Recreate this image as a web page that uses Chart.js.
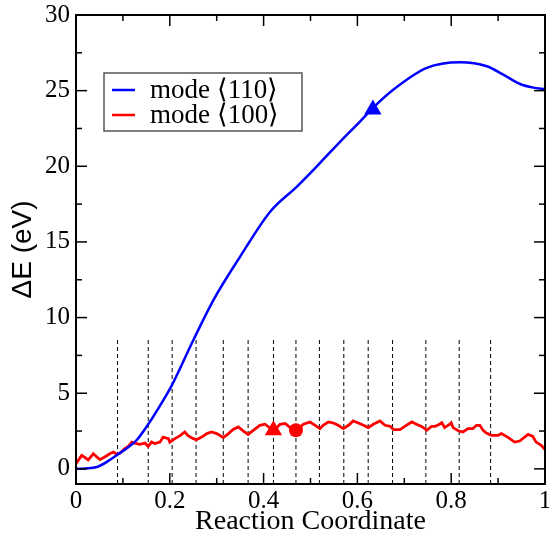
<!DOCTYPE html>
<html><head><meta charset="utf-8">
<script src="https://cdn.jsdelivr.net/npm/chart.js@4"></script>
<style>html,body{margin:0;padding:0;background:#fff;}#wrap{width:549px;height:539px;}</style>
</head><body><div id="wrap"><canvas id="c" width="549" height="539"></canvas></div>
<script>
// ---- data ----
const seriesNames = ['mode \u27E8110\u27E9', 'mode \u27E8100\u27E9'];
const blueX = [0, 0.02, 0.044, 0.065, 0.089, 0.11, 0.129, 0.154, 0.173, 0.204, 0.25, 0.293, 0.35, 0.414, 0.471, 0.52, 0.567, 0.606, 0.633, 0.677, 0.748, 0.819, 0.876, 0.911, 0.947, 0.975, 1.0];
const blueY = [0, 0.03, 0.12, 0.45, 0.95, 1.4, 1.89, 2.95, 3.87, 5.5, 8.5, 11.16, 14.03, 17.0, 18.66, 20.21, 21.75, 22.97, 23.85, 25.07, 26.5, 26.87, 26.61, 26.06, 25.44, 25.2, 25.1];
const redX = [0, 0.012, 0.019, 0.026, 0.037, 0.044, 0.051, 0.062, 0.072, 0.080, 0.087, 0.094, 0.104, 0.112, 0.119, 0.129, 0.136, 0.147, 0.154, 0.161, 0.168, 0.179, 0.186, 0.197, 0.200, 0.211, 0.222, 0.232, 0.239, 0.250, 0.257, 0.268, 0.279, 0.289, 0.300, 0.314, 0.325, 0.335, 0.346, 0.357, 0.367, 0.378, 0.392, 0.403, 0.414, 0.424, 0.435, 0.446, 0.456, 0.469, 0.485, 0.499, 0.510, 0.520, 0.527, 0.538, 0.549, 0.559, 0.570, 0.581, 0.591, 0.602, 0.613, 0.623, 0.634, 0.648, 0.659, 0.670, 0.677, 0.691, 0.701, 0.716, 0.726, 0.737, 0.748, 0.758, 0.766, 0.775, 0.780, 0.786, 0.797, 0.800, 0.804, 0.816, 0.825, 0.836, 0.846, 0.854, 0.861, 0.868, 0.875, 0.886, 0.900, 0.907, 0.922, 0.935, 0.946, 0.964, 0.974, 0.981, 0.992, 1.0];
const redY = [0.34, 0.89, 0.75, 0.6, 1.0, 0.8, 0.61, 0.8, 1.0, 1.11, 0.95, 1.05, 1.34, 1.5, 1.77, 1.67, 1.62, 1.7, 1.49, 1.77, 1.67, 1.77, 2.1, 2.0, 1.77, 2.0, 2.2, 2.44, 2.2, 2.0, 1.93, 2.1, 2.33, 2.44, 2.33, 2.07, 2.33, 2.6, 2.77, 2.5, 2.28, 2.55, 2.88, 2.95, 2.7, 2.6, 2.95, 3.0, 2.75, 2.55, 2.95, 3.1, 2.88, 2.66, 2.88, 3.1, 3.03, 2.88, 2.66, 2.88, 3.17, 3.03, 2.88, 2.73, 2.95, 3.17, 2.88, 2.81, 2.6, 2.6, 2.81, 3.1, 2.95, 2.81, 2.55, 2.81, 2.81, 2.95, 3.05, 2.73, 2.95, 3.05, 2.73, 2.5, 2.44, 2.66, 2.66, 2.88, 2.88, 2.55, 2.37, 2.22, 2.22, 2.33, 2.07, 1.77, 1.84, 2.28, 2.15, 1.77, 1.55, 1.27];
const dashX = [0.0886, 0.154, 0.205, 0.256, 0.314, 0.367, 0.421, 0.469, 0.519, 0.571, 0.623, 0.675, 0.746, 0.817, 0.884];
const dashYRange = [-1, 8.6];
const blueMarkers = [{x: 0.633, y: 23.75}];
const redTriangles = [{x: 0.421, y: 2.55}];
const redCircles = [{x: 0.469, y: 2.55}];
const xTicks = [0, 0.2, 0.4, 0.6, 0.8, 1];
const yTicks = [0, 5, 10, 15, 20, 25, 30];
const xMinor = [0.1, 0.3, 0.5, 0.7, 0.9];
const yMinor = [2.5, 7.5, 12.5, 17.5, 22.5, 27.5];

const pts = (xs, ys) => xs.map((x, i) => ({x, y: ys[i]}));
const dashData = [];
dashX.forEach(x => { dashData.push({x, y: dashYRange[0]}, {x, y: dashYRange[1]}, {x, y: null}); });

const SERIF = '"Liberation Serif", "Times New Roman", serif';
const SANS = '"Liberation Sans", Arial, sans-serif';

const framePlugin = {
  id: 'frame',
  afterDatasetsDraw(chart) {
    const {ctx, chartArea: a, scales: {x, y}} = chart;
    ctx.save();
    ctx.strokeStyle = '#000';
    ctx.lineWidth = 1.5;
    const tick = (px, py, dx, dy) => { ctx.beginPath(); ctx.moveTo(px, py); ctx.lineTo(px + dx, py + dy); ctx.stroke(); };
    xTicks.forEach(v => { const p = x.getPixelForValue(v); tick(p, a.bottom, 0, -11); tick(p, a.top, 0, 11); });
    xMinor.forEach(v => { const p = x.getPixelForValue(v); tick(p, a.bottom, 0, -6); tick(p, a.top, 0, 6); });
    yTicks.forEach(v => { const p = y.getPixelForValue(v); tick(a.left, p, 11, 0); tick(a.right, p, -11, 0); });
    yMinor.forEach(v => { const p = y.getPixelForValue(v); tick(a.left, p, 6, 0); tick(a.right, p, -6, 0); });
    ctx.lineWidth = 2;
    ctx.strokeRect(a.left, a.top, a.right - a.left, a.bottom - a.top);
    // legend
    const bx = 104, by = 73, bw = 198, bh = 58;
    ctx.fillStyle = '#fff';
    ctx.fillRect(bx, by, bw, bh);
    ctx.strokeStyle = '#555';
    ctx.lineWidth = 1.5;
    ctx.strokeRect(bx, by, bw, bh);
    const cols = ['#0000ff', '#ff0000'];
    ctx.font = '27px ' + SERIF;
    ctx.textBaseline = 'middle';
    ctx.textAlign = 'left';
    seriesNames.forEach((n, i) => {
      const ly = by + 17 + i * 25;
      ctx.strokeStyle = cols[i];
      ctx.lineWidth = 2.5;
      ctx.beginPath(); ctx.moveTo(bx + 8, ly); ctx.lineTo(bx + 31, ly); ctx.stroke();
      ctx.fillStyle = '#000';
      ctx.fillText(n, bx + 46, ly + 1);
    });
    ctx.restore();
  }
};

new Chart(document.getElementById('c'), {
  type: 'line',
  data: {
    datasets: [
      {label: seriesNames[0], data: pts(blueX, blueY), borderColor: '#0000ff', borderWidth: 2.5, pointRadius: 0, cubicInterpolationMode: 'monotone', order: 2},
      {label: seriesNames[1], data: pts(redX, redY), borderColor: '#ff0000', borderWidth: 2.8, pointRadius: 0, tension: 0, order: 2},
      {label: 'dash', data: dashData, borderColor: '#000', borderWidth: 1, borderDash: [4, 3], pointRadius: 0, spanGaps: false, order: 3},
      {type: 'scatter', label: 'm1', data: blueMarkers, pointStyle: 'triangle', pointRadius: 10, backgroundColor: '#0000ff', borderColor: '#0000ff', borderWidth: 0, order: 1},
      {type: 'scatter', label: 'm2', data: redTriangles, pointStyle: 'triangle', pointRadius: 10, backgroundColor: '#ff0000', borderColor: '#ff0000', borderWidth: 0, order: 1},
      {type: 'scatter', label: 'm3', data: redCircles, pointStyle: 'circle', pointRadius: 7, backgroundColor: '#ff0000', borderColor: '#ff0000', borderWidth: 0, order: 1}
    ]
  },
  options: {
    responsive: false,
    animation: false,
    layout: {autoPadding: false, padding: {left: 0, right: 4, top: 15, bottom: 0}},
    plugins: {legend: {display: false}, tooltip: {enabled: false}},
    scales: {
      x: {
        type: 'linear', min: 0, max: 1,
        afterBuildTicks: s => { s.ticks = xTicks.map(v => ({value: v})); },
        afterFit: s => { s.height = 55; s.paddingLeft = 0; s.paddingRight = 0; },
        grid: {display: false, drawTicks: false}, border: {display: false},
        ticks: {font: {family: SERIF, size: 25}, color: '#000', padding: 2, maxRotation: 0, callback: v => String(v)},
        title: {display: true, text: 'Reaction Coordinate', font: {family: SERIF, size: 28}, color: '#000', padding: {top: 0, bottom: 1}}
      },
      y: {
        type: 'linear', min: -1, max: 30,
        afterBuildTicks: s => { s.ticks = yTicks.map(v => ({value: v})); },
        afterFit: s => { s.width = 76; s.paddingTop = 0; s.paddingBottom = 0; },
        grid: {display: false, drawTicks: false}, border: {display: false},
        ticks: {font: {family: SERIF, size: 25}, color: '#000', padding: 6, callback: v => String(v)},
        title: {display: true, text: '\u0394E (eV)', font: {family: SANS, size: 28}, color: '#000', padding: {top: 6, bottom: 0}}
      }
    }
  },
  plugins: [framePlugin]
});
</script></body></html>
